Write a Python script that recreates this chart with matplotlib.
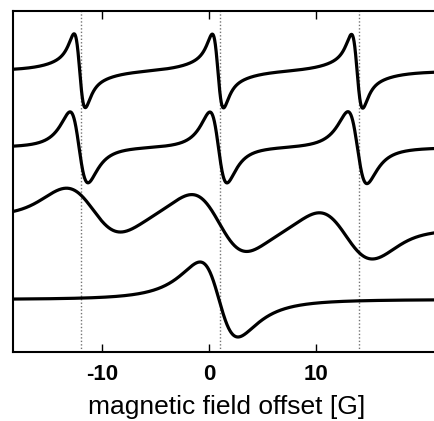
import numpy as np
import matplotlib
matplotlib.use("Agg")
import matplotlib.pyplot as plt

plt.rcParams["font.family"] = ["Liberation Sans", "DejaVu Sans"]

# field window (G) and guide lines
X_LIM = (-18.33, 21.5)
GUIDES = [-12.0, 1.0, 14.0]
XTICKS = [-10, 0, 10]

# traces top -> bottom: baseline offset (arb. units)
BASE = [281.0, 204.5, 129.0, 52.5]
# Lorentzian fraction of each trace's line shape (rest is Gaussian)
ETA = [1.0, 1.0, 0.15, 1.0]

# derivative lines, one entry per component:
# centre (G), peak-to-peak width (G), half peak-to-peak amplitude
CENTERS = [[-12.12, 0.81, 13.83, -12.12, 0.81, 13.83],
           [-12.18, 0.86, 13.86],
           [-10.88, 0.93, 12.82, 0.93],
           [0.91]]
PP_WIDTH = [[1.0, 1.0, 1.0, 3.5, 3.5, 3.5],
            [1.68, 1.6, 1.78],
            [5.1, 4.8, 5.0, 23.0],
            [3.55]]
AMP = [[34.0, 34.0, 34.0, 6.0, 6.0, 6.0],
       [35.5, 35.5, 36.0],
       [22.3, 24.5, 23.5, 12.9],
       [37.5]]


def dline(x, c, pp, amp, eta):
    # Lorentzian part, unit peak
    g = pp * np.sqrt(3) / 2
    u = (x - c) / g
    lor = (-u / (1 + u ** 2) ** 2) / (3 * np.sqrt(3) / 16)
    # Gaussian part, unit peak
    v = (x - c) / (pp / 2)
    gau = -v * np.exp((1 - v ** 2) / 2)
    return amp * (eta * lor + (1 - eta) * gau)


def main():
    x = np.linspace(X_LIM[0], X_LIM[1], 3000)
    fig = plt.figure(figsize=(4.35, 4.21), dpi=100)
    ax = fig.add_axes([13.3 / 435, 69 / 421, 425.8 / 435, 341 / 421])

    for g in GUIDES:
        ax.axvline(g, color="0.45", ls=(0, (1, 1.5)), lw=1.0, zorder=1)

    for base, eta, cs, ws, amps in zip(BASE, ETA, CENTERS, PP_WIDTH, AMP):
        y = np.full_like(x, base)
        for c, w, a in zip(cs, ws, amps):
            y = y + dline(x, c, w, a, eta)
        ax.plot(x, y, color="black", lw=2.3, zorder=3)

    ax.set_xlim(*X_LIM)
    ax.set_ylim(0, 341)
    ax.set_xticks(XTICKS)
    ax.set_xticklabels([str(t) for t in XTICKS], fontsize=16, fontweight="bold")
    ax.set_yticks([])
    ax.tick_params(axis="x", direction="in", length=6, width=1, top=True, pad=9)
    for s in ax.spines.values():
        s.set_linewidth(1.5)
    ax.set_xlabel("magnetic field offset [G]", fontsize=19, labelpad=7)

    fig.savefig("out.png", dpi=100)


if __name__ == "__main__":
    main()
